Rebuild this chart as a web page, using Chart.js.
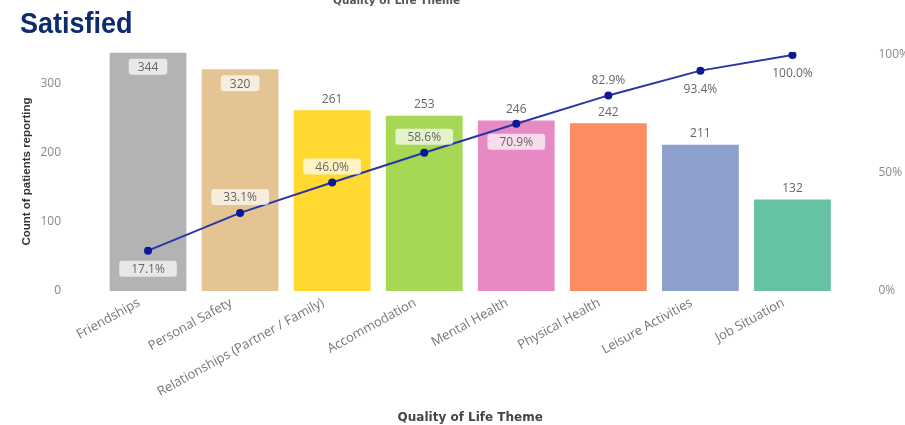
<!DOCTYPE html>
<html>
<head>
<meta charset="utf-8">
<script src="https://cdn.jsdelivr.net/npm/chart.js@4.4.1/dist/chart.umd.min.js"></script>
<style>
  html, body { margin: 0; padding: 0; background: #fff; }
  #wrap { position: relative; width: 905px; height: 425px; overflow: hidden; }
  #chartBox { position: absolute; left: 0; top: 0; width: 905px; height: 425px; }
  #satisfied {
    position: absolute; left: 20px; top: 8px; z-index: 2;
    font-family: "Liberation Sans", Arial, sans-serif; font-weight: bold;
    font-size: 30px; line-height: 30px; color: #0d2b6e;
    transform: scaleX(0.9); transform-origin: left top;
  }
  #topTitle {
    position: absolute; left: 333px; top: -5px; z-index: 2;
    font-family: "DejaVu Sans", sans-serif; font-weight: bold;
    font-size: 10.5px; line-height: 11px; color: #555;
  }
</style>
</head>
<body>
<div id="wrap">
  <div id="chartBox"><canvas id="paretoChart"></canvas></div>
  <div id="topTitle">Quality of Life Theme</div>
  <div id="satisfied">Satisfied</div>
</div>
<script>
// 차트 데이터
const categories = ['Friendships', 'Personal Safety', 'Relationships (Partner / Family)', 'Accommodation',
  'Mental Health', 'Physical Health', 'Leisure Activities', 'Job Situation'];
const counts = [344, 320, 261, 253, 246, 242, 211, 132];
const cumulativePct = [17.1, 33.1, 46.0, 58.6, 70.9, 82.9, 93.4, 100.0];
const countTicks = [0, 100, 200, 300];
const pctTicks = [0, 50, 100];

const barColors = ['#b3b3b3', '#e5c494', '#ffd92f', '#a6d854', '#e78ac3', '#fc8d62', '#8da0cb', '#66c2a5'];
const FONT = '"Open Sans", "Noto Sans", sans-serif';

// 막대와 선 위에 값 라벨 그리기
const valueLabels = {
  id: 'valueLabels',
  afterDatasetsDraw(chart, args, opts) {
    const ctx = chart.ctx;
    const area = chart.chartArea;
    const barMeta = chart.getDatasetMeta(0);
    const lineMeta = chart.getDatasetMeta(1);

    const rects = barMeta.data.map(b => {
      const p = b.getProps(['x', 'y', 'base', 'width'], true);
      return { l: p.x - p.width / 2, r: p.x + p.width / 2, t: p.y, b: p.base };
    });
    const overBar = (cx, cy, w, h) => rects.some(r =>
      cx + w / 2 > r.l && cx - w / 2 < r.r && cy + h / 2 > r.t && cy - h / 2 < r.b);

    ctx.save();
    ctx.font = '12px ' + FONT;
    ctx.textAlign = 'center';
    ctx.textBaseline = 'middle';

    function draw(text, cx, cy, padX) {
      const w = ctx.measureText(text).width + padX * 2, h = 16;
      if (overBar(cx, cy, w, h)) {
        ctx.fillStyle = 'rgba(255,255,255,0.7)';
        ctx.beginPath();
        ctx.roundRect(cx - w / 2, cy - h / 2, w, h, 3);
        ctx.fill();
      }
      ctx.fillStyle = '#666';
      ctx.fillText(text, cx, cy + 1);
    }

    barMeta.data.forEach((bar, i) => {
      let cy = bar.y - 12;
      if (cy - 8 < area.top) cy = bar.y + 14; // 위에 공간이 없으면 막대 안쪽
      draw(String(counts[i]), bar.x, cy, 9);
    });

    lineMeta.data.forEach((pt, i) => {
      const cy = opts.sides[i] === 'below' ? pt.y + 18 : pt.y - 16;
      draw(cumulativePct[i].toFixed(1) + '%', pt.x, cy, 12);
    });
    ctx.restore();
  }
};

const ctx = document.getElementById('paretoChart').getContext('2d');
new Chart(ctx, {
  data: {
    labels: categories,
    datasets: [{
      type: 'bar',
      data: counts,
      backgroundColor: barColors,
      yAxisID: 'y',
      categoryPercentage: 1,
      barPercentage: 0.834,
      order: 1
    }, {
      type: 'line',
      data: cumulativePct,
      yAxisID: 'yPct',
      borderColor: '#2a36a8',
      borderWidth: 2,
      pointRadius: 4,
      pointBorderWidth: 0,
      pointBackgroundColor: '#0a1a96',
      tension: 0,
      order: 0
    }]
  },
  options: {
    responsive: true,
    maintainAspectRatio: false,
    animation: false,
    layout: { padding: { top: 52, left: 0, right: 0, bottom: 0 } },
    plugins: {
      legend: { display: false },
      tooltip: { enabled: false },
      valueLabels: { sides: ['below', 'above', 'above', 'above', 'below', 'above', 'below', 'below'] }
    },
    scales: {
      x: {
        grid: { display: false, drawTicks: false },
        border: { display: false },
        ticks: { minRotation: 29, maxRotation: 29, padding: 4, labelOffset: -9, color: '#777', font: { family: FONT, size: 13 } },
        title: { display: true, text: 'Quality of Life Theme', color: '#444',
          font: { family: '"DejaVu Sans", sans-serif', size: 12, weight: 'bold' }, padding: { top: 4, bottom: 0 } },
        afterFit(scale) { scale.height = 134; }
      },
      y: {
        position: 'left',
        min: 0, max: 345,
        grid: { display: false, drawTicks: false },
        border: { display: false },
        ticks: { padding: 41, color: '#8a8a8a', font: { family: FONT, size: 12 } },
        afterBuildTicks(scale) { scale.ticks = countTicks.map(v => ({ value: v })); },
        title: { display: true, text: 'Count of patients reporting', color: '#333',
          font: { family: '"Liberation Sans", Arial, sans-serif', size: 11.5, weight: 'bold' }, padding: { top: 20, bottom: 0 } },
        afterFit(scale) { scale.width = 102; }
      },
      yPct: {
        position: 'right',
        min: 0, max: 101.3,
        grid: { display: false, drawTicks: false },
        border: { display: false },
        ticks: { padding: 40, color: '#8a8a8a', font: { family: FONT, size: 12 }, callback: v => v + '%' },
        afterBuildTicks(scale) { scale.ticks = pctTicks.map(v => ({ value: v })); },
        afterFit(scale) { scale.width = 66.5; }
      }
    }
  },
  plugins: [valueLabels]
});
</script>
</body>
</html>
